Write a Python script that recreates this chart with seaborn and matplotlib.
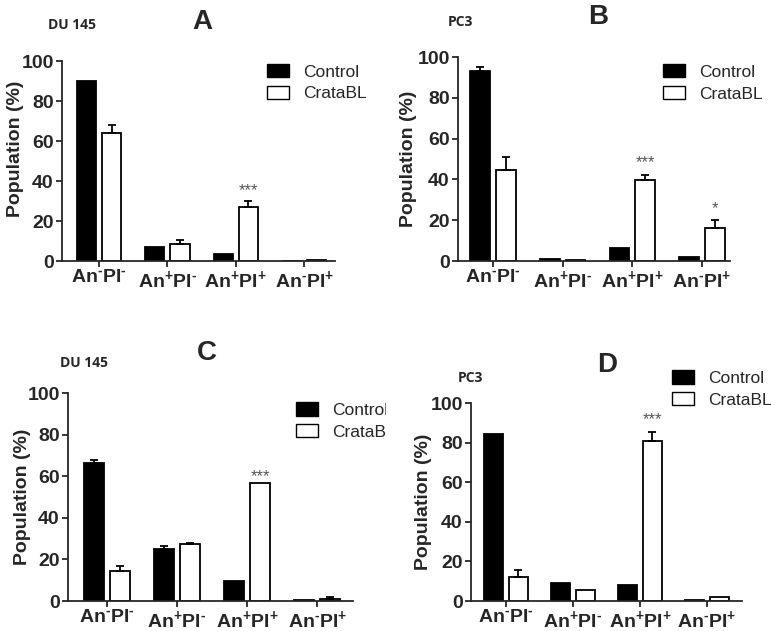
import numpy as np
import pandas as pd
import seaborn as sns
import matplotlib.pyplot as plt
from matplotlib.patches import Patch, Rectangle

# categories and labels
categories = ['An-PI-', 'An+PI-', 'An+PI+', 'An-PI+']
tick_labels = [r'$\mathbf{An^{\text{-}}PI^{\text{-}}}$', r'$\mathbf{An^{+}PI^{\text{-}}}$',
               r'$\mathbf{An^{+}PI^{+}}$', r'$\mathbf{An^{\text{-}}PI^{+}}$']
treatments = ['Control', 'CrataBL']

# panel A - DU 145
a_control = [90, 7, 3.7, 0]
a_control_err = [0, 0, 0, 0]
a_crata = [64, 8.7, 27, 0.5]
a_crata_err = [4, 2, 3, 0]

# panel B - PC3
b_control = [93, 1.2, 6.5, 2.0]
b_control_err = [2, 0, 0, 0]
b_crata = [44.5, 0.7, 39.5, 16.2]
b_crata_err = [6.5, 0, 2.7, 3.8]

# panel C - DU 145
c_control = [66.3, 25, 9.7, 0.4]
c_control_err = [1.5, 1.3, 0, 0]
c_crata = [14.3, 27.5, 56.8, 0.8]
c_crata_err = [2.5, 0.5, 0, 1.3]

# panel D - PC3
d_control = [84.5, 9.2, 8, 0.6]
d_control_err = [0, 0, 0, 0]
d_crata = [12.2, 5.5, 80.8, 2.0]
d_crata_err = [3.3, 0, 4.6, 0]

# significance marks: (category index, text, y)
a_stars = [(2, '***', 35)]
b_stars = [(2, '***', 48), (3, '*', 25.5)]
c_stars = [(2, '***', 60)]
d_stars = [(2, '***', 91.5)]

W, H = 771, 631

sns.set_style('ticks')
plt.rcParams['font.family'] = ['Liberation Sans', 'DejaVu Sans']
plt.rcParams['mathtext.fontset'] = 'custom'
plt.rcParams['mathtext.rm'] = 'Liberation Sans:bold'
plt.rcParams['mathtext.bf'] = 'Liberation Sans:bold'

fig = plt.figure(figsize=(W / 100, H / 100), dpi=100)

panels = [
    dict(letter='A', cell='DU 145', control=a_control, control_err=a_control_err,
         crata=a_crata, crata_err=a_crata_err, stars=a_stars,
         box=(62, 335, 61, 261), xlim=(-0.54, 3.45), leg=(0.751, 0.985),
         ylab=(-0.139, 0.56), letter_xy=(202, 22), cell_xy=(48, 25)),
    dict(letter='B', cell='PC3', control=b_control, control_err=b_control_err,
         crata=b_crata, crata_err=b_crata_err, stars=b_stars,
         box=(458, 730, 57, 261), xlim=(-0.50, 3.40), leg=(0.754, 0.965),
         ylab=(-0.151, 0.5), letter_xy=(598, 17), cell_xy=(448, 22)),
    dict(letter='C', cell='DU 145', control=c_control, control_err=c_control_err,
         crata=c_crata, crata_err=c_crata_err, stars=c_stars,
         box=(68, 353, 393, 601), xlim=(-0.555, 3.51), leg=(0.80, 0.955),
         ylab=(-0.13, 0.5), letter_xy=(207, 353), cell_xy=(60, 363)),
    dict(letter='D', cell='PC3', control=d_control, control_err=d_control_err,
         crata=d_crata, crata_err=d_crata_err, stars=d_stars,
         box=(471, 742, 403, 601), xlim=(-0.52, 3.52), leg=(0.742, 1.165),
         ylab=(-0.144, 0.5), letter_xy=(607, 365), cell_xy=(458, 378)),
]

palette = {'Control': 'black', 'CrataBL': 'white'}
lw = 1.3

for p in panels:
    x0, x1, y0, y1 = p['box']
    ax = fig.add_axes([x0 / W, 1 - y1 / H, (x1 - x0) / W, (y1 - y0) / H])
    if p['letter'] == 'D':
        ax.set_zorder(2)
    df = pd.DataFrame({
        'cat': categories * 2,
        'treat': ['Control'] * 4 + ['CrataBL'] * 4,
        'val': p['control'] + p['crata'],
    })
    sns.barplot(data=df, x='cat', y='val', hue='treat', order=categories,
                hue_order=treatments, palette=palette, saturation=1,
                width=0.74, gap=0.24, edgecolor='black', linewidth=lw,
                errorbar=None, legend=False, ax=ax)

    for cont, errs in zip(ax.containers, [p['control_err'], p['crata_err']]):
        for bar, e in zip(cont, errs):
            if e > 0:
                xc = bar.get_x() + bar.get_width() / 2
                ax.errorbar([xc], [bar.get_height()], yerr=[[0], [e]], fmt='none',
                            ecolor='black', elinewidth=lw, capsize=3, capthick=lw)

    for idx, s, y in p['stars']:
        bar = ax.containers[1][idx]
        ax.text(bar.get_x() + bar.get_width() / 2, y, s, ha='center', va='center',
                fontsize=12, color='#555555')

    ax.set_xlim(*p['xlim'])
    ax.set_ylim(0, 100)
    ax.set_yticks([0, 20, 40, 60, 80, 100])
    ax.set_yticklabels(['0', '20', '40', '60', '80', '100'], fontsize=14, fontweight='bold')
    ax.set_xticks(range(4))
    ax.set_xticklabels(tick_labels, fontsize=14)
    ax.set_xlabel('')
    ax.set_ylabel('Population (%)', fontsize=14, fontweight='bold')
    ax.yaxis.set_label_coords(*p['ylab'])
    sns.despine(ax=ax)
    for sp in ['left', 'bottom']:
        ax.spines[sp].set_linewidth(lw)
    ax.tick_params(direction='out', length=4, width=lw, pad=2)

    handles = [Patch(facecolor='black', edgecolor='black', linewidth=1),
               Patch(facecolor='white', edgecolor='black', linewidth=1)]
    ax.legend(handles, treatments, loc='upper left', bbox_to_anchor=p['leg'],
              frameon=False, fontsize=12.5, handlelength=1.27, handleheight=0.8,
              handletextpad=0.8, labelspacing=0.35, borderpad=0, borderaxespad=0)

    lx, ly = p['letter_xy']
    fig.text(lx / W, 1 - ly / H, p['letter'], ha='center', va='center',
             fontsize=20, fontweight='bold')
    cx, cy = p['cell_xy']
    fig.text(cx / W, 1 - cy / H, p['cell'], ha='left', va='center',
             fontsize=10, fontweight='bold', family=['Open Sans', 'DejaVu Sans'])

# panel C legend is cut off by panel D in the original
fig.add_artist(Rectangle((386 / W, 1 - 450 / H), (W - 386) / W, 55 / H,
                         transform=fig.transFigure, facecolor='white',
                         edgecolor='none', zorder=1))

fig.savefig('out.png', dpi=100)
